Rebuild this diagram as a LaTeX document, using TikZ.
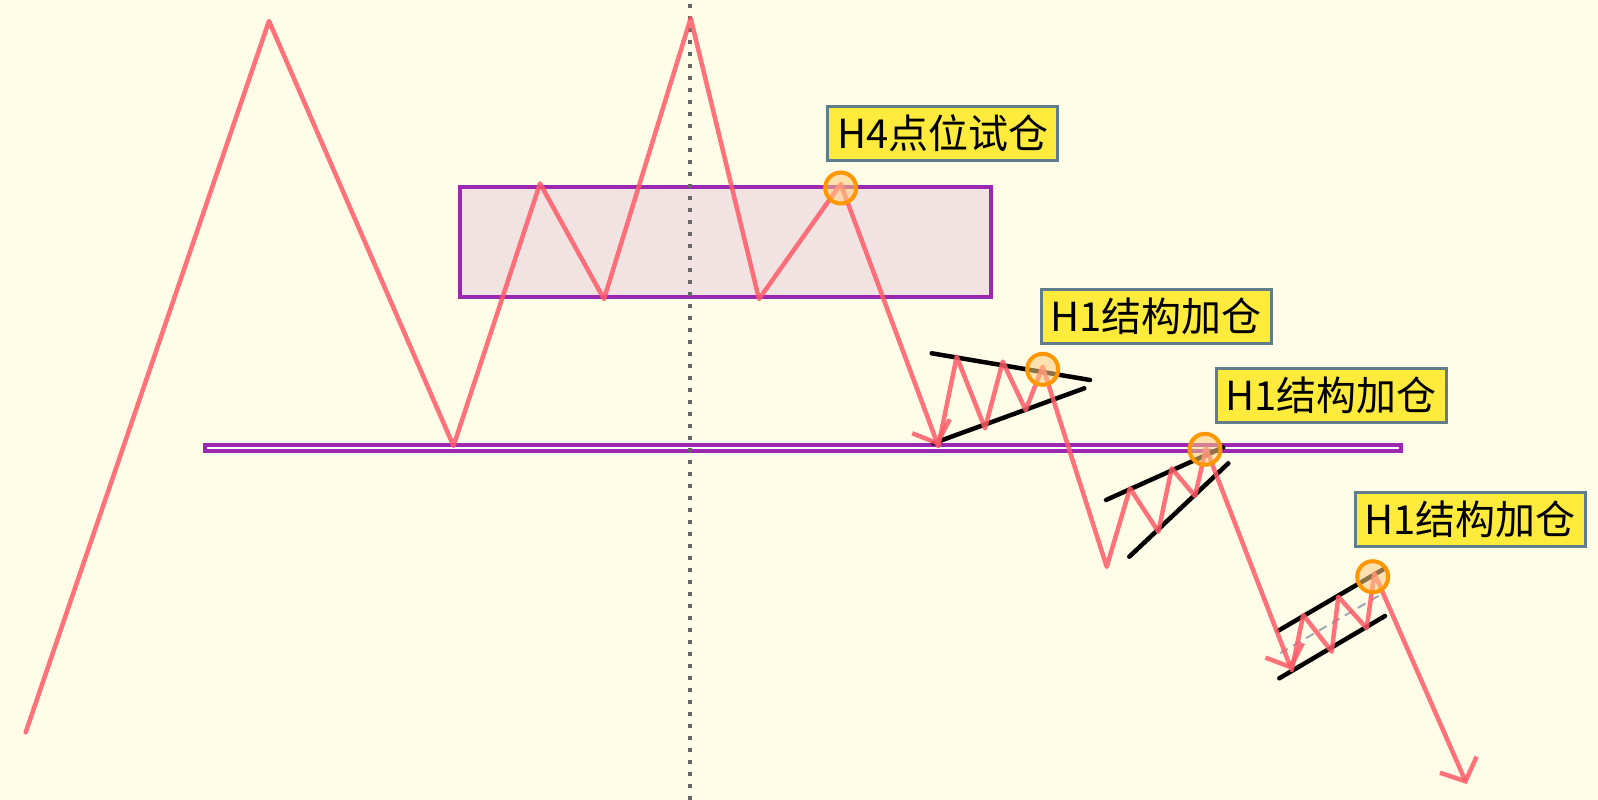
\documentclass[tikz,border=0pt]{standalone}
\usepackage{fontspec}
\setmainfont{Noto Sans CJK SC}
\usetikzlibrary{arrows.meta}
\definecolor{bg}{HTML}{FFFCE8}
\definecolor{pk}{HTML}{FF5A66}
\definecolor{pu}{HTML}{9C27B0}
\definecolor{boxfill}{HTML}{F2E3E3}
\definecolor{lbl}{HTML}{FFEB3B}
\definecolor{lblborder}{HTML}{607D8B}
\definecolor{orng}{HTML}{FF9800}
\definecolor{orfill}{HTML}{FFCC80}
\definecolor{dashgray}{HTML}{9EAAB8}
\definecolor{dotgray}{HTML}{666666}
\begin{document}
\begin{tikzpicture}[x=1pt,y=-1pt,
  pinkline/.style={draw=pk, line width=4.5pt, line join=round, line cap=round, draw opacity=0.85},
  pinkarrow/.style={pinkline, -{Straight Barb[length=18pt,width=40pt]}},
  blackline/.style={draw=black, line width=4.5pt, line cap=round},
  label/.style={fill=lbl, draw=lblborder, line width=3pt, minimum width=230pt, minimum height=54pt, inner sep=0pt, font=\fontsize{40}{42}\selectfont},
  hit/.style={circle, draw=orng, line width=4pt, fill=orfill, fill opacity=0.55, minimum size=31pt, inner sep=0pt},
  zone/.style={draw=pu, line width=3.5pt, fill=boxfill},
  support/.style={draw=pu, line width=3.2pt, fill=white},
  midline/.style={draw=dotgray, line width=3.5pt, dash pattern=on 4pt off 8pt}]
\fill[bg] (0,0) rectangle (1598,800);
\useasboundingbox (0,0) rectangle (1598,800);

% zone and support line
\draw[zone] (460,187) rectangle (991,297);
\draw[support] (205,445) rectangle (1401,451);

% vertical dotted line
\coordinate (vtop) at (690,4);
\coordinate (vbot) at (690,800);
\draw[midline] (vtop) -- (vbot);

% main path points
\coordinate (p0) at (25.7,732.3);
\coordinate (p1) at (269,21);
\coordinate (p2) at (453.5,446);
\coordinate (p3) at (540,183.5);
\coordinate (p4) at (604,299);
\coordinate (p5) at (690.7,18.3);
\coordinate (p6) at (759,299);
\coordinate (p7) at (840.7,184);
\coordinate (a1) at (938.3,446);
\coordinate (q1) at (956.7,356.7);
\coordinate (q2) at (985,428.3);
\coordinate (q3) at (1002.7,361.7);
\coordinate (q4) at (1025.7,410);
\coordinate (q5) at (1042.7,366.7);
\coordinate (r0) at (1106.7,566.7);
\coordinate (r1) at (1130,488.3);
\coordinate (r2) at (1158.3,531.7);
\coordinate (r3) at (1171.7,468.3);
\coordinate (r4) at (1195,496);
\coordinate (r5) at (1206,448.3);
\coordinate (a2) at (1291.7,670);
\coordinate (s1) at (1303.3,615);
\coordinate (s2) at (1331.7,651.7);
\coordinate (s3) at (1338.3,596.7);
\coordinate (s4) at (1366.7,628.3);
\coordinate (s5) at (1374.3,573.3);
\coordinate (a3) at (1466.7,784);

% channel lines
\coordinate (t1a) at (931.7,353.3); \coordinate (t1b) at (1090,380);
\coordinate (t1c) at (933.3,443.3); \coordinate (t1d) at (1084.3,388.3);
\coordinate (t2a) at (1106,500);   \coordinate (t2b) at (1223.3,447.3);
\coordinate (t2c) at (1129.3,556.7); \coordinate (t2d) at (1228.3,463.3);
\coordinate (t3a) at (1278.3,630.7); \coordinate (t3b) at (1385,568.3);
\coordinate (t3c) at (1279.3,678.3); \coordinate (t3d) at (1385,616);
\coordinate (g1) at (1280,653.3); \coordinate (g2) at (1380,595);

\draw[blackline] (t1a) -- (t1b);
\draw[blackline] (t1c) -- (t1d);
\draw[blackline] (t2a) -- (t2b);
\draw[blackline] (t2c) -- (t2d);
\draw[blackline] (t3a) -- (t3b);
\draw[blackline] (t3c) -- (t3d);
\draw[draw=dashgray, line width=2pt, dash pattern=on 9pt off 6pt] (g1) -- (g2);

% price path
\draw[pinkarrow] (p0) -- (p1) -- (p2) -- (p3) -- (p4) -- (p5) -- (p6) -- (p7) -- (a1);
\draw[pinkarrow] (a1) -- (q1) -- (q2) -- (q3) -- (q4) -- (q5) -- (r0) -- (r1) -- (r2) -- (r3) -- (r4) -- (r5) -- (a2);
\draw[pinkarrow] (a2) -- (s1) -- (s2) -- (s3) -- (s4) -- (s5) -- (a3);

% markers
\node[hit] (c0) at (840.7,188) {};
\node[hit] (c1) at (1042.7,369.3) {};
\node[hit] (c2) at (1205,449.3) {};
\node[hit] (c3) at (1372.7,576.7) {};

% labels
\node[label] (l0) at (942.9,133.3) {H4点位试仓};
\node[label] (l1) at (1156.2,316.7) {H1结构加仓};
\node[label] (l2) at (1331.2,395) {H1结构加仓};
\node[label] (l3) at (1470.3,519.2) {H1结构加仓};
\end{tikzpicture}
\end{document}
